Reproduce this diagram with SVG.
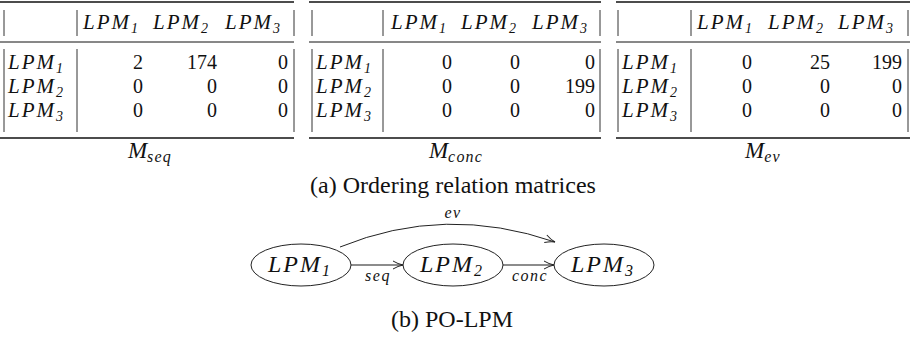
<svg xmlns="http://www.w3.org/2000/svg" width="911" height="337" viewBox="0 0 911 337">
<style>
text{font-family:"Liberation Serif","Times New Roman",serif;fill:#111}
.mi{font-style:italic;font-size:21px;letter-spacing:2px}
.sub{font-style:italic;font-size:14px;letter-spacing:0}
.n{font-size:20px;text-anchor:end}
.cap{font-size:24px;text-anchor:middle}
.lab{font-style:italic;font-size:16px;letter-spacing:1.5px;text-anchor:middle}
.ml{font-style:italic;font-size:23px;text-anchor:middle}
.msub{font-size:16px;letter-spacing:1.2px}
.big{font-style:italic;font-size:24px;letter-spacing:2px}
.bsub{font-size:16px;letter-spacing:0}
.rule{stroke:#111;stroke-width:1.6}
.mrule{stroke:#111;stroke-width:1}
.bar{stroke:#333;stroke-width:1}
.node{fill:#fff;stroke:#222;stroke-width:1}
.edge{fill:none;stroke:#666;stroke-width:1.4}
.arc{fill:none;stroke:#222;stroke-width:1}
</style>
<defs>
<marker id="ah" markerWidth="12" markerHeight="10" refX="11" refY="5" orient="auto" markerUnits="userSpaceOnUse">
<path d="M1,1 Q6,4 11,5 Q6,6 1,9" fill="none" stroke="#222" stroke-width="1"/>
</marker>
</defs>

<g id="table-seq">
<line class="rule" x1="0" y1="2" x2="294" y2="2"/>
<line class="mrule" x1="0" y1="42" x2="294" y2="42"/>
<line class="rule" x1="0" y1="138" x2="294" y2="138"/>
<line class="bar" x1="4" y1="10" x2="4" y2="36"/><line class="bar" x1="77" y1="10" x2="77" y2="36"/><line class="bar" x1="294" y1="10" x2="294" y2="36"/>
<line class="bar" x1="4" y1="49" x2="4" y2="132"/><line class="bar" x1="77" y1="49" x2="77" y2="132"/><line class="bar" x1="294" y1="49" x2="294" y2="132"/>
<text class="mi" x="83" y="29">LPM<tspan class="sub" dy="4">1</tspan></text>
<text class="mi" x="153" y="29">LPM<tspan class="sub" dy="4">2</tspan></text>
<text class="mi" x="225" y="29">LPM<tspan class="sub" dy="4">3</tspan></text>
<text class="mi" x="8" y="69">LPM<tspan class="sub" dy="4">1</tspan></text>
<text class="mi" x="8" y="93">LPM<tspan class="sub" dy="4">2</tspan></text>
<text class="mi" x="8" y="117">LPM<tspan class="sub" dy="4">3</tspan></text>
<text class="n" x="143" y="69">2</text><text class="n" x="217" y="69">174</text><text class="n" x="288" y="69">0</text>
<text class="n" x="143" y="93">0</text><text class="n" x="217" y="93">0</text><text class="n" x="288" y="93">0</text>
<text class="n" x="143" y="117">0</text><text class="n" x="217" y="117">0</text><text class="n" x="288" y="117">0</text>
<text class="ml" x="150" y="158">M<tspan class="msub" dy="4">seq</tspan></text>
</g>

<g id="table-conc">
<line class="rule" x1="309" y1="2" x2="601" y2="2"/>
<line class="mrule" x1="309" y1="42" x2="601" y2="42"/>
<line class="rule" x1="309" y1="138" x2="601" y2="138"/>
<line class="bar" x1="312" y1="10" x2="312" y2="36"/><line class="bar" x1="383" y1="10" x2="383" y2="36"/><line class="bar" x1="600" y1="10" x2="600" y2="36"/>
<line class="bar" x1="312" y1="49" x2="312" y2="132"/><line class="bar" x1="383" y1="49" x2="383" y2="132"/><line class="bar" x1="600" y1="49" x2="600" y2="132"/>
<text class="mi" x="391" y="29">LPM<tspan class="sub" dy="4">1</tspan></text>
<text class="mi" x="461" y="29">LPM<tspan class="sub" dy="4">2</tspan></text>
<text class="mi" x="532" y="29">LPM<tspan class="sub" dy="4">3</tspan></text>
<text class="mi" x="316" y="69">LPM<tspan class="sub" dy="4">1</tspan></text>
<text class="mi" x="316" y="93">LPM<tspan class="sub" dy="4">2</tspan></text>
<text class="mi" x="316" y="117">LPM<tspan class="sub" dy="4">3</tspan></text>
<text class="n" x="452" y="69">0</text><text class="n" x="520" y="69">0</text><text class="n" x="595" y="69">0</text>
<text class="n" x="452" y="93">0</text><text class="n" x="520" y="93">0</text><text class="n" x="595" y="93">199</text>
<text class="n" x="452" y="117">0</text><text class="n" x="520" y="117">0</text><text class="n" x="595" y="117">0</text>
<text class="ml" x="456" y="158">M<tspan class="msub" dy="4">conc</tspan></text>
</g>

<g id="table-ev">
<line class="rule" x1="616" y1="2" x2="910" y2="2"/>
<line class="mrule" x1="616" y1="42" x2="910" y2="42"/>
<line class="rule" x1="616" y1="138" x2="910" y2="138"/>
<line class="bar" x1="618" y1="10" x2="618" y2="36"/><line class="bar" x1="691" y1="10" x2="691" y2="36"/><line class="bar" x1="908" y1="10" x2="908" y2="36"/>
<line class="bar" x1="618" y1="49" x2="618" y2="132"/><line class="bar" x1="691" y1="49" x2="691" y2="132"/><line class="bar" x1="908" y1="49" x2="908" y2="132"/>
<text class="mi" x="697" y="29">LPM<tspan class="sub" dy="4">1</tspan></text>
<text class="mi" x="768" y="29">LPM<tspan class="sub" dy="4">2</tspan></text>
<text class="mi" x="838" y="29">LPM<tspan class="sub" dy="4">3</tspan></text>
<text class="mi" x="622" y="69">LPM<tspan class="sub" dy="4">1</tspan></text>
<text class="mi" x="622" y="93">LPM<tspan class="sub" dy="4">2</tspan></text>
<text class="mi" x="622" y="117">LPM<tspan class="sub" dy="4">3</tspan></text>
<text class="n" x="752" y="69">0</text><text class="n" x="830" y="69">25</text><text class="n" x="902" y="69">199</text>
<text class="n" x="752" y="93">0</text><text class="n" x="830" y="93">0</text><text class="n" x="902" y="93">0</text>
<text class="n" x="752" y="117">0</text><text class="n" x="830" y="117">0</text><text class="n" x="902" y="117">0</text>
<text class="ml" x="763" y="158">M<tspan class="msub" dy="4">ev</tspan></text>
</g>

<text id="caption-a" class="cap" x="453" y="193">(a) Ordering relation matrices</text>

<g id="connectors">
<line class="edge" x1="351" y1="265" x2="403" y2="265" marker-end="url(#ah)"/>
<line class="edge" x1="503" y1="265" x2="554" y2="265" marker-end="url(#ah)"/>
<path class="arc" d="M340,247 Q445,204 555,242" marker-end="url(#ah)"/>
<text class="lab" x="378" y="281">seq</text>
<text class="lab" x="530" y="281">conc</text>
<text class="lab" x="453" y="218">ev</text>
</g>

<g id="node-lpm1">
<ellipse class="node" cx="301" cy="265" rx="50" ry="21"/>
<text class="big" x="268" y="272">LPM<tspan class="bsub" dy="4">1</tspan></text>
</g>
<g id="node-lpm2">
<ellipse class="node" cx="453" cy="265" rx="50" ry="21"/>
<text class="big" x="420" y="272">LPM<tspan class="bsub" dy="4">2</tspan></text>
</g>
<g id="node-lpm3">
<ellipse class="node" cx="604" cy="265" rx="50" ry="21"/>
<text class="big" x="571" y="272">LPM<tspan class="bsub" dy="4">3</tspan></text>
</g>

<text id="caption-b" class="cap" x="452" y="327">(b) PO-LPM</text>
</svg>
